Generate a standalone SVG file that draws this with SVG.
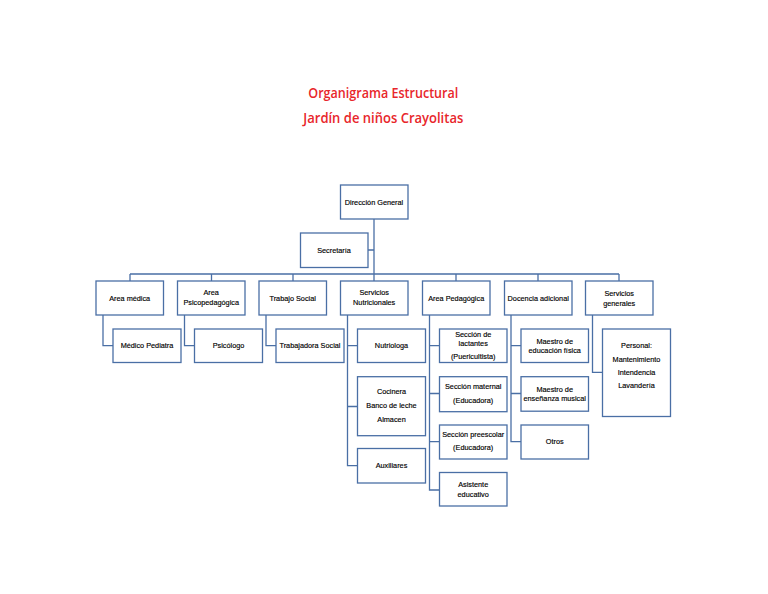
<svg xmlns="http://www.w3.org/2000/svg" width="768" height="594" viewBox="0 0 768 594">
<style>
.b{fill:#fff;stroke:#4a6fa5;stroke-width:1.3}
.c{fill:none;stroke:#4a6fa5;stroke-width:1.3}
.t{font-family:"Liberation Sans",Arial,sans-serif;font-size:7.3px;fill:#000;stroke:#000;stroke-width:0.15;text-anchor:middle;dominant-baseline:central}
.h{font-family:"Open Sans","Liberation Sans",Arial,sans-serif;font-size:14.5px;font-weight:600;fill:#e8262b;text-anchor:middle}
</style>
<rect width="768" height="594" fill="#fff"/>
<text class="h" x="383.3" y="98.3" textLength="150" lengthAdjust="spacingAndGlyphs">Organigrama Estructural</text>
<text class="h" x="383.3" y="122.7" textLength="160" lengthAdjust="spacingAndGlyphs">Jardín de niños Crayolitas</text>
<g id="connectors">
<path class="c" d="M374 219V281M368 250H374M130 274H619M130 274V281M211.5 274V281M293 274V281M456 274V281M538 274V281M619 274V281"/>
<path class="c" d="M103 315V345.7H113"/>
<path class="c" d="M184.5 315V345.7H194.5"/>
<path class="c" d="M266 315V345.7H276"/>
<path class="c" d="M347.5 315V465.7H357.5M347.5 345.7H357.5M347.5 406.5H357.5"/>
<path class="c" d="M429.5 315V490H439.5M429.5 345.7H439.5M429.5 393.5H439.5M429.5 441.7H439.5"/>
<path class="c" d="M511 315V441.7H521M511 345.7H521M511 393.5H521"/>
<path class="c" d="M592.5 315V372.3H602.5"/>
</g>
<g id="direccion"><rect class="b" x="340.5" y="185" width="67.5" height="34"/><text class="t" x="374" y="202">Dirección General</text></g>
<g id="secretaria"><rect class="b" x="300.5" y="233" width="67.5" height="34.5"/><text class="t" x="334" y="250">Secretaría</text></g>
<g id="area-medica"><rect class="b" x="96" y="281" width="67.5" height="34"/><text class="t" x="129.7" y="298">Area médica</text></g>
<g id="area-psico"><rect class="b" x="177.5" y="281" width="67.5" height="34"/><text class="t" x="211.2" y="292.5">Area</text><text class="t" x="211.2" y="302.5">Psicopedagógica</text></g>
<g id="trabajo-social"><rect class="b" x="259" y="281" width="67.5" height="34"/><text class="t" x="292.7" y="298">Trabajo Social</text></g>
<g id="servicios-nutricionales"><rect class="b" x="340.5" y="281" width="67.5" height="34"/><text class="t" x="374.2" y="292.5">Servicios</text><text class="t" x="374.2" y="302.5">Nutricionales</text></g>
<g id="area-pedagogica"><rect class="b" x="422.5" y="281" width="67.5" height="34"/><text class="t" x="456.2" y="298">Area Pedagógica</text></g>
<g id="docencia"><rect class="b" x="504.5" y="281" width="67.5" height="34"/><text class="t" x="538.2" y="298">Docencia adicional</text></g>
<g id="servicios-generales"><rect class="b" x="585.5" y="281" width="67.5" height="34"/><text class="t" x="619.2" y="293">Servicios</text><text class="t" x="619.2" y="303">generales</text></g>
<g id="medico"><rect class="b" x="113" y="329" width="68" height="33.5"/><text class="t" x="147" y="345.7">Médico Pediatra</text></g>
<g id="psicologo"><rect class="b" x="194.5" y="329" width="68" height="33.5"/><text class="t" x="228.5" y="345.7">Psicólogo</text></g>
<g id="trabajadora"><rect class="b" x="276" y="329" width="68" height="33.5"/><text class="t" x="310" y="345.7">Trabajadora Social</text></g>
<g id="nutriologa"><rect class="b" x="357.5" y="329" width="68" height="33.5"/><text class="t" x="391.5" y="345.7">Nutriologa</text></g>
<g id="cocinera"><rect class="b" x="357.5" y="376.7" width="68" height="59"/><text class="t" x="391.5" y="391.7">Cocinera</text><text class="t" x="391.5" y="405">Banco de leche</text><text class="t" x="391.5" y="419">Almacen</text></g>
<g id="auxiliares"><rect class="b" x="357.5" y="448.5" width="68" height="34.5"/><text class="t" x="391.5" y="465.7">Auxiliares</text></g>
<g id="lactantes"><rect class="b" x="439.5" y="329" width="67.5" height="33.5"/><text class="t" x="473.2" y="334.5">Sección de</text><text class="t" x="473.2" y="343.7">lactantes</text><text class="t" x="473.2" y="356">(Puericultista)</text></g>
<g id="maternal"><rect class="b" x="439.5" y="376.7" width="67.5" height="35"/><text class="t" x="473.2" y="386.7">Sección maternal</text><text class="t" x="473.2" y="400">(Educadora)</text></g>
<g id="preescolar"><rect class="b" x="439.5" y="425" width="67.5" height="34"/><text class="t" x="473.2" y="434.3">Sección preescolar</text><text class="t" x="473.2" y="447.7">(Educadora)</text></g>
<g id="asistente"><rect class="b" x="439.5" y="472.5" width="67.5" height="33.5"/><text class="t" x="473.2" y="484">Asistente</text><text class="t" x="473.2" y="494.3">educativo</text></g>
<g id="maestro-fisica"><rect class="b" x="521" y="329" width="67.5" height="33.5"/><text class="t" x="554.7" y="341">Maestro de</text><text class="t" x="554.7" y="350.5">educación física</text></g>
<g id="maestro-musical"><rect class="b" x="521" y="376.7" width="67.5" height="34.5"/><text class="t" x="554.7" y="389">Maestro de</text><text class="t" x="554.7" y="398">enseñanza musical</text></g>
<g id="otros"><rect class="b" x="521" y="425" width="67.5" height="34"/><text class="t" x="554.7" y="441.7">Otros</text></g>
<g id="personal"><rect class="b" x="602.5" y="329" width="68" height="87.5"/><text class="t" x="636.5" y="345">Personal:</text><text class="t" x="636.5" y="359.3">Mantenimiento</text><text class="t" x="636.5" y="372.7">Intendencia</text><text class="t" x="636.5" y="385">Lavandería</text></g>
</svg>
